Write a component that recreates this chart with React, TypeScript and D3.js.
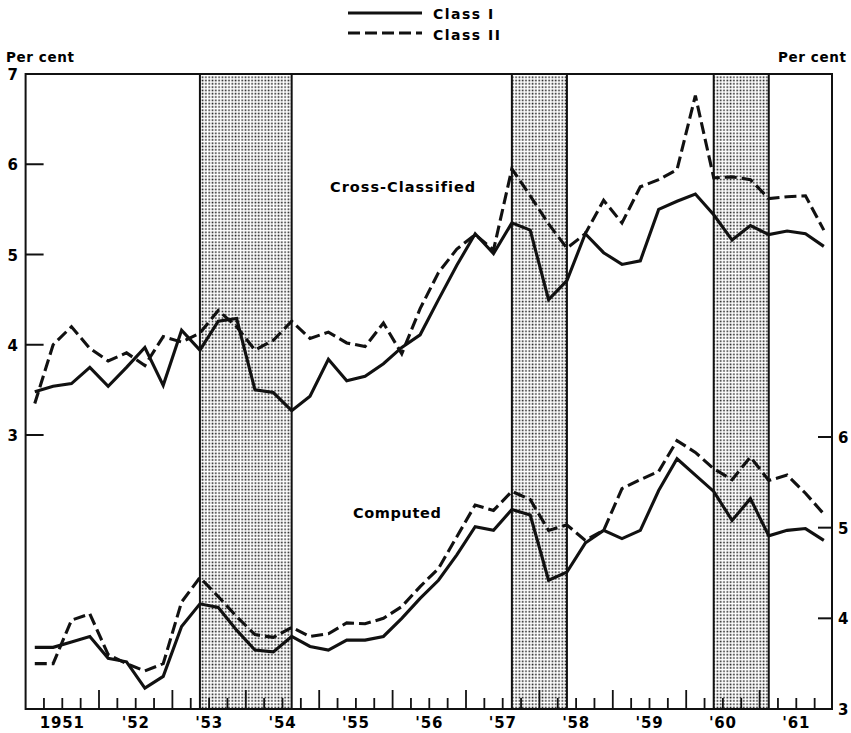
import React, { useEffect, useRef } from "react";
import * as d3 from "d3";

// quarterly series, first quarter of 1951 through last quarter of 1961
const startYear = 1951;

const crossClassI = [
  3.48, 3.54, 3.57, 3.75, 3.54, 3.75, 3.97, 3.55, 4.16, 3.94, 4.26, 4.29,
  3.5, 3.47, 3.27, 3.43, 3.84, 3.6, 3.65, 3.79, 3.97, 4.11, 4.5, 4.88,
  5.23, 5.01, 5.35, 5.27, 4.5, 4.71, 5.23, 5.02, 4.89, 4.93, 5.5, 5.59,
  5.67, 5.44, 5.16, 5.32, 5.22, 5.26, 5.23, 5.09,
];
const crossClassII = [
  3.35, 4.0, 4.2, 3.96, 3.82, 3.91, 3.77, 4.09, 4.03, 4.13, 4.38, 4.2,
  3.94, 4.05, 4.26, 4.07, 4.14, 4.02, 3.98, 4.24, 3.9, 4.4, 4.8, 5.06,
  5.22, 5.05, 5.95, 5.65, 5.34, 5.07, 5.23, 5.6, 5.35, 5.75, 5.83, 5.94,
  6.76, 5.85, 5.86, 5.83, 5.62, 5.64, 5.65, 5.27,
];
const computedI = [
  3.68, 3.68, 3.74, 3.8, 3.56, 3.52, 3.23, 3.36, 3.91, 4.16, 4.12, 3.87,
  3.65, 3.63, 3.8, 3.69, 3.65, 3.76, 3.76, 3.8, 4.0, 4.22, 4.42, 4.7,
  5.01, 4.97, 5.2, 5.14, 4.42, 4.51, 4.83, 4.97, 4.88, 4.97, 5.41, 5.76,
  5.58, 5.4, 5.08, 5.32, 4.91, 4.97, 4.99, 4.86,
];
const computedII = [
  3.5, 3.5, 3.98, 4.05, 3.6, 3.5, 3.42, 3.5, 4.18, 4.45, 4.24, 4.02,
  3.82, 3.79, 3.9, 3.8, 3.83, 3.95, 3.94, 4.0, 4.13, 4.35, 4.55, 4.9,
  5.25, 5.19, 5.4, 5.31, 4.97, 5.03, 4.86, 4.97, 5.43, 5.53, 5.62, 5.96,
  5.83, 5.65, 5.53, 5.78, 5.52, 5.58, 5.38, 5.15,
];

// shaded periods (in years)
const recessions = [
  [1953.375, 1954.625],
  [1957.625, 1958.375],
  [1960.375, 1961.125],
];

const yearLabels = ["1951", "'52", "'53", "'54", "'55", "'56", "'57", "'58", "'59", "'60", "'61"];
const leftTicks = [3, 4, 5, 6, 7];
const rightTicks = [3, 4, 5, 6];

const font = "'DejaVu Sans', sans-serif";

export default function App() {
  const ref = useRef<SVGSVGElement>(null);

  const left = 25.6;
  const right = 833;
  const top = 74;
  const bottom = 709;

  const x = d3.scaleLinear().domain([1951, 1962]).range([left, right]);
  const yLeft = d3.scaleLinear().domain([3, 7]).range([435, top]);
  const yRight = d3.scaleLinear().domain([3, 6]).range([bottom, 437]);

  useEffect(() => {
    const svg = d3.select(ref.current);
    svg.selectAll("*").remove();

    const defs = svg.append("defs");
    const pat = defs
      .append("pattern")
      .attr("id", "dots")
      .attr("width", 3.3)
      .attr("height", 3.3)
      .attr("patternUnits", "userSpaceOnUse");
    pat.append("rect").attr("width", 3.3).attr("height", 3.3).attr("fill", "#fff");
    pat.append("rect").attr("x", 0.5).attr("y", 0.5).attr("width", 1.6).attr("height", 1.6).attr("fill", "#1a1a1a");

    // recession shading
    svg
      .append("g")
      .selectAll("rect")
      .data(recessions)
      .join("rect")
      .attr("x", (d) => x(d[0]))
      .attr("y", top)
      .attr("width", (d) => x(d[1]) - x(d[0]))
      .attr("height", bottom - top)
      .attr("fill", "url(#dots)")
      .attr("stroke", "#111")
      .attr("stroke-width", 2);

    // frame
    svg
      .append("rect")
      .attr("x", left)
      .attr("y", top)
      .attr("width", right - left - 1)
      .attr("height", bottom - top)
      .attr("fill", "none")
      .attr("stroke", "#111")
      .attr("stroke-width", 2);

    // x ticks, quarterly
    const qTicks = d3.range(1951.25, 1962, 0.25);
    svg
      .append("g")
      .selectAll("line")
      .data(qTicks)
      .join("line")
      .attr("x1", (d) => x(d))
      .attr("x2", (d) => x(d))
      .attr("y1", bottom)
      .attr("y2", (d) => (Number.isInteger(d) ? bottom - 19 : bottom - 11))
      .attr("stroke", "#111")
      .attr("stroke-width", 1.8);

    svg
      .append("g")
      .selectAll("text")
      .data(yearLabels)
      .join("text")
      .attr("x", (d, i) => x(startYear + i + 0.5))
      .attr("y", 728)
      .attr("text-anchor", "middle")
      .attr("font-family", font)
      .attr("font-size", 15)
      .attr("font-weight", "bold")
      .attr("letter-spacing", 0.8)
      .text((d) => d);

    // left axis
    const gl = svg.append("g");
    gl.selectAll("line")
      .data(leftTicks.filter((d) => d < 7))
      .join("line")
      .attr("x1", left)
      .attr("x2", left + 18)
      .attr("y1", (d) => yLeft(d))
      .attr("y2", (d) => yLeft(d))
      .attr("stroke", "#111")
      .attr("stroke-width", 2);
    gl.selectAll("text")
      .data(leftTicks)
      .join("text")
      .attr("x", 18)
      .attr("y", (d) => yLeft(d) + 6)
      .attr("text-anchor", "end")
      .attr("font-family", font)
      .attr("font-size", 15)
      .attr("font-weight", "bold")
      .text((d) => d);

    // right axis
    const gr = svg.append("g");
    gr.selectAll("line")
      .data(rightTicks.filter((d) => d > 3))
      .join("line")
      .attr("x1", right - 1)
      .attr("x2", right - 15)
      .attr("y1", (d) => yRight(d))
      .attr("y2", (d) => yRight(d))
      .attr("stroke", "#111")
      .attr("stroke-width", 2);
    gr.selectAll("text")
      .data(rightTicks)
      .join("text")
      .attr("x", 838)
      .attr("y", (d) => yRight(d) + 6)
      .attr("font-family", font)
      .attr("font-size", 15)
      .attr("font-weight", "bold")
      .text((d) => d);

    // series
    const qx = (i: number) => x(startYear + (i + 0.5) / 4);
    const series = [
      { values: crossClassI, scale: yLeft, dash: null },
      { values: crossClassII, scale: yLeft, dash: "12,5" },
      { values: computedI, scale: yRight, dash: null },
      { values: computedII, scale: yRight, dash: "12,5" },
    ];
    for (const s of series) {
      const line = d3
        .line<number>()
        .x((d, i) => qx(i))
        .y((d) => s.scale(d));
      svg
        .append("path")
        .attr("d", line(s.values))
        .attr("fill", "none")
        .attr("stroke", "#111")
        .attr("stroke-width", 3.1)
        .attr("stroke-linejoin", "miter")
        .attr("stroke-dasharray", s.dash);
    }

    const label = (tx: number, ty: number, t: string, size = 14) =>
      svg
        .append("text")
        .attr("x", tx)
        .attr("y", ty)
        .attr("font-family", font)
        .attr("font-size", size)
        .attr("font-weight", "bold")
        .attr("letter-spacing", 0.6)
        .text(t);

    label(6, 62, "Per cent", 13.5);
    label(778, 62, "Per cent", 13.5);
    label(330, 192, "Cross-Classified", 14.5).attr("letter-spacing", 1);
    label(353, 518, "Computed", 14.5);

    // legend
    svg.append("line").attr("x1", 348).attr("x2", 422).attr("y1", 13).attr("y2", 13)
      .attr("stroke", "#111").attr("stroke-width", 3.1);
    svg.append("line").attr("x1", 348).attr("x2", 422).attr("y1", 33).attr("y2", 33)
      .attr("stroke", "#111").attr("stroke-width", 3.1).attr("stroke-dasharray", "12,5");
    label(433, 19, "Class I", 14).attr("letter-spacing", 1.5);
    label(433, 40, "Class II", 14).attr("letter-spacing", 1.5);
  }, []);

  return (
    <svg
      ref={ref}
      width={851}
      height={733}
      style={{ position: "absolute", left: 0, top: 0, background: "#fff" }}
    ></svg>
  );
}
